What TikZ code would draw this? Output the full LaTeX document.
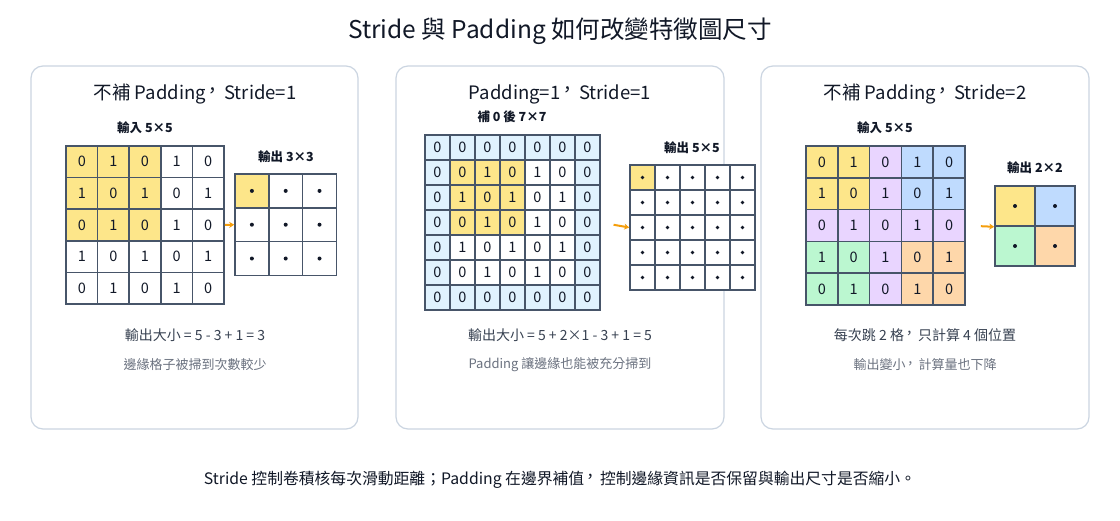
\documentclass[tikz,border=0pt]{standalone}
\usepackage{fontspec}
\setmainfont{Noto Sans CJK TC}
\usetikzlibrary{arrows.meta}
\definecolor{ink}{HTML}{111827}
\definecolor{gridc}{HTML}{475569}
\definecolor{edgec}{HTML}{CBD5E1}
\definecolor{txtb}{HTML}{374151}
\definecolor{txtc}{HTML}{6B7280}
\definecolor{arrc}{HTML}{F59E0B}
\definecolor{ylw}{HTML}{FDE68A}
\definecolor{padc}{HTML}{E0F2FE}
\definecolor{pur}{HTML}{E9D5FF}
\definecolor{blu}{HTML}{BFDBFE}
\definecolor{grn}{HTML}{BBF7D0}
\definecolor{org}{HTML}{FED7AA}
% centred full-width comma, as in Taiwan typesetting
\newcommand\tcomma{\kern-0.12em\raisebox{0.12em}{，}\kern0.12em}
\begin{document}
\begin{tikzpicture}[x=1pt, y=-1pt,
        panel/.style={draw=edgec, line width=1.2pt, rounded corners=12pt, fill=white},
        cell/.style={draw=gridc, line width=1.6pt, inner sep=0pt, text=ink, font=\fontsize{14.5}{16}\selectfont},
        head/.style={text=ink, font=\fontsize{18.5}{22}\selectfont},
        lbl/.style={text=ink, font=\bfseries\fontsize{12.5}{15}\selectfont},
        eq/.style={text=txtb, font=\fontsize{14}{16}\selectfont},
        note/.style={text=txtc, font=\fontsize{13}{15}\selectfont},
        arr/.style={draw=arrc, line width=2pt, -{Stealth[length=5pt, width=6pt]}}]
        \fill[white] (0,0) rectangle (1120,520);
        \useasboundingbox (0,0) rectangle (1120,520);

        \node[text=ink, font=\fontsize{24.5}{28}\selectfont] (title) at (560,31) {Stride 與 Padding 如何改變特徵圖尺寸};

        \draw[panel] (31,66) rectangle (358,429);
        \draw[panel] (396,66) rectangle (724,429);
        \draw[panel] (761,66) rectangle (1089,429);

        % panel 1: no padding, stride 1
        \node[head] (h1) at (195,94) {不補 Padding\tcomma Stride=1};
        \node[lbl] (in1) at (145,128) {輸入 5×5};
        \node[lbl] (out1) at (286,157) {輸出 3×3};
        \foreach \i in {0,...,4} \foreach \j in {0,...,4} {
            \pgfmathtruncatemacro\val{mod(\i+\j,2)}
            \pgfmathtruncatemacro\win{(\i<3)&&(\j<3)}
            \ifnum\win=1 \def\fillc{ylw}\else\def\fillc{white}\fi
            \node[cell, fill=\fillc, minimum size=31.6pt] (a1-\i-\j) at ({81.8+31.6*\j},{161.8+31.6*\i}) {\val};
        }
        \foreach \i in {0,...,2} \foreach \j in {0,...,2} {
            \pgfmathtruncatemacro\win{(\i==0)&&(\j==0)}
            \ifnum\win=1 \def\fillc{ylw}\else\def\fillc{white}\fi
            \node[cell, fill=\fillc, minimum size=33.8pt] (b1-\i-\j) at ({251.9+33.8*\j},{190.9+33.8*\i}) {};
            \fill[ink] (b1-\i-\j.center) circle (2pt);
        }
        \draw[arr] (a1-2-4.east) -- (b1-1-0.west);
        \node[eq] (eq1) at (195,335) {輸出大小 = 5 - 3 + 1 = 3};
        \node[note] (nt1) at (195,365) {邊緣格子被掃到次數較少};

        % panel 2: padding 1, stride 1
        \node[head] (h2) at (560,94) {Padding=1\tcomma Stride=1};
        \node[lbl] (in2) at (512,117) {補 0 後 7×7};
        \node[lbl] (out2) at (692,148) {輸出 5×5};
        \foreach \i in {0,...,6} \foreach \j in {0,...,6} {
            \pgfmathtruncatemacro\rim{(\i==0)||(\i==6)||(\j==0)||(\j==6)}
            \pgfmathtruncatemacro\val{mod(\i+\j,2)*(1-\rim)}
            \pgfmathtruncatemacro\win{(\i>0)&&(\i<4)&&(\j>0)&&(\j<4)}
            \ifnum\rim=1 \def\fillc{padc}\else
                \ifnum\win=1 \def\fillc{ylw}\else\def\fillc{white}\fi\fi
            \node[cell, fill=\fillc, minimum size=25pt] (a2-\i-\j) at ({437.5+25*\j},{147.5+25*\i}) {\val};
        }
        \foreach \i in {0,...,4} \foreach \j in {0,...,4} {
            \pgfmathtruncatemacro\win{(\i==0)&&(\j==0)}
            \ifnum\win=1 \def\fillc{ylw}\else\def\fillc{white}\fi
            \node[cell, fill=\fillc, minimum size=25pt] (b2-\i-\j) at ({642.5+25*\j},{177.5+25*\i}) {};
            \fill[ink] (b2-\i-\j.center) circle (1.9pt);
        }
        \draw[arr, shorten <=13pt] (a2-3-6.east) -- (b2-2-0.west);
        \node[eq] (eq2) at (560,335) {輸出大小 = 5 + 2×1 - 3 + 1 = 5};
        \node[note] (nt2) at (560,365) {Padding 讓邊緣也能被充分掃到};

        % panel 3: no padding, stride 2
        \node[head] (h3) at (925,94) {不補 Padding\tcomma Stride=2};
        \node[lbl] (in3) at (885,128) {輸入 5×5};
        \node[lbl] (out3) at (1035,168) {輸出 2×2};
        \foreach \i in {0,...,4} \foreach \j in {0,...,4} {
            \pgfmathtruncatemacro\val{mod(\i+\j,2)}
            \ifnum\j=2 \def\fillc{pur}\else\ifnum\i=2 \def\fillc{pur}\else
                \ifnum\i<2 \ifnum\j<2 \def\fillc{ylw}\else\def\fillc{blu}\fi
                \else \ifnum\j<2 \def\fillc{grn}\else\def\fillc{org}\fi\fi\fi\fi
            \node[cell, fill=\fillc, minimum size=31.8pt] (a3-\i-\j) at ({821.9+31.8*\j},{161.9+31.8*\i}) {\val};
        }
        \node[cell, fill=ylw, minimum size=40pt] (b3-0-0) at (1015,206) {};
        \node[cell, fill=blu, minimum size=40pt] (b3-0-1) at (1055,206) {};
        \node[cell, fill=grn, minimum size=40pt] (b3-1-0) at (1015,246) {};
        \node[cell, fill=org, minimum size=40pt] (b3-1-1) at (1055,246) {};
        \foreach \k in {b3-0-0, b3-0-1, b3-1-0, b3-1-1}
            \fill[ink] (\k.center) circle (2pt);
        \draw[arr, shorten <=15pt] (a3-2-4.east) -- (b3-0-0.south west);
        \node[eq] (eq3) at (925,335) {每次跳 2 格\tcomma 只計算 4 個位置};
        \node[note] (nt3) at (925,365) {輸出變小\tcomma 計算量也下降};

        \node[text=ink, font=\fontsize{15.8}{18}\selectfont] (foot) at (560,480) {Stride 控制卷積核每次滑動距離；Padding 在邊界補值\tcomma 控制邊緣資訊是否保留與輸出尺寸是否縮小。};
    \end{tikzpicture}
\end{document}
